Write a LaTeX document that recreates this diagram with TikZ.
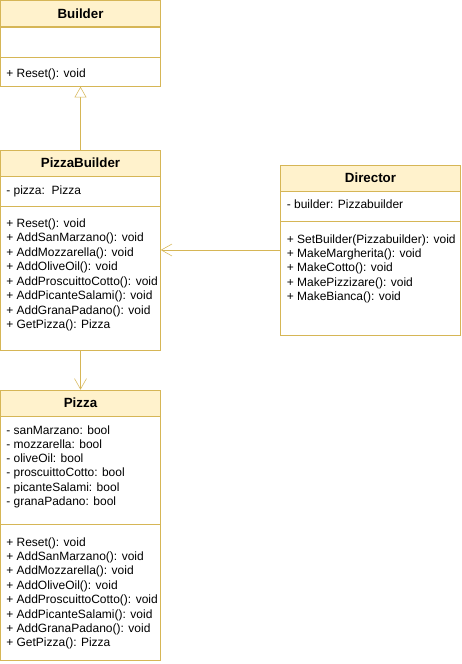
\documentclass[tikz,border=0pt]{standalone}
\usepackage{fontspec}
\setmainfont{Liberation Sans}
\usetikzlibrary{positioning,arrows.meta}
\definecolor{headfill}{HTML}{FFF2CC}
\definecolor{headline}{HTML}{D6B656}
\tikzset{
  classframe/.style={draw=headline, fill=white, inner sep=0pt},
  classhead/.style={draw=headline, fill=headfill, minimum height=19.5pt, inner sep=0pt, font=\bfseries},
  classpart/.style={draw=headline, inner sep=0pt},
  member/.style={anchor=base west, inner sep=0pt},
  opentip/.style={draw=headline, -{Straight Barb[length=8pt,width=9pt]}},
  inherittip/.style={draw=headline, -{Triangle[open,fill=white,length=8pt,width=9pt]}},
}
\begin{document}
\begin{tikzpicture}[x=0.75pt, y=-0.75pt, font=\fontsize{9}{11}\selectfont]
	  \useasboundingbox (0,0) rectangle (461,664);
	  \fill[white] (0,0) rectangle (461,664);
	  % Builder
	  \node[classframe, minimum width=120pt, minimum height=64.5pt] (builder) at (80.5,43.5) {};
	  \node[classhead, minimum width=120pt, below=0pt of builder.north] (bhead) {Builder};
	  \node[classpart, minimum width=120pt, minimum height=22.5pt, below=0pt of bhead] (battr) {};
	  \node[member] (bm1) at (6,77) {+ Reset(): void};
	  % PizzaBuilder
	  \node[classframe, minimum width=120pt, minimum height=150pt] (pizzabuilder) at (80.5,250) {};
	  \node[classhead, minimum width=120pt, below=0pt of pizzabuilder.north] (pbhead) {PizzaBuilder};
	  \node[classpart, minimum width=120pt, minimum height=22.5pt, below=0pt of pbhead] (pbattr) {};
	  \node[member] (pba1) at (6,194) {- pizza:\ \ Pizza};
	  \foreach \txt [count=\i] in {+ Reset(): void, + AddSanMarzano(): void, + AddMozzarella(): void,
	    + AddOliveOil(): void, + AddProscuittoCotto(): void, + AddPicanteSalami(): void,
	    + AddGranaPadano(): void, + GetPizza(): Pizza}
	    \node[member] (pbm\i) at (6,{227+14.5*(\i-1)}) {\txt};
	  % Director
	  \node[classframe, minimum width=135pt, minimum height=127.5pt] (director) at (370.5,250) {};
	  \node[classhead, minimum width=135pt, below=0pt of director.north] (dhead) {Director};
	  \node[classpart, minimum width=135pt, minimum height=22.5pt, below=0pt of dhead] (dattr) {};
	  \node[member] (da1) at (286.5,208.5) {- builder: Pizzabuilder};
	  \foreach \txt [count=\i] in {+ SetBuilder(Pizzabuilder): void, + MakeMargherita(): void,
	    + MakeCotto(): void, + MakePizzizare(): void, + MakeBianca(): void}
	    \node[member] (dm\i) at (286.5,{243+14.4*(\i-1)}) {\txt};
	  % Pizza
	  \node[classframe, minimum width=120pt, minimum height=202.5pt] (pizza) at (80.5,525) {};
	  \node[classhead, minimum width=120pt, below=0pt of pizza.north] (phead) {Pizza};
	  \node[classpart, minimum width=120pt, minimum height=81pt, below=0pt of phead] (pattr) {};
	  \foreach \txt [count=\i] in {- sanMarzano: bool, - mozzarella: bool, - oliveOil: bool,
	    - proscuittoCotto: bool, - picanteSalami: bool, - granaPadano: bool}
	    \node[member] (pa\i) at (6,{434+14.33*(\i-1)}) {\txt};
	  \foreach \txt [count=\i] in {+ Reset(): void, + AddSanMarzano(): void, + AddMozzarella(): void,
	    + AddOliveOil(): void, + AddProscuittoCotto(): void, + AddPicanteSalami(): void,
	    + AddGranaPadano(): void, + GetPizza(): Pizza}
	    \node[member] (pm\i) at (6,{546+14.4*(\i-1)}) {\txt};
	  % connectors
	  \draw[inherittip] (pizzabuilder.north) -- (builder.south);
	  \draw[opentip] (director.west) -- (pizzabuilder.east);
	  \draw[opentip] (pizzabuilder.south) -- (pizza.north);
	\end{tikzpicture}
\end{document}
